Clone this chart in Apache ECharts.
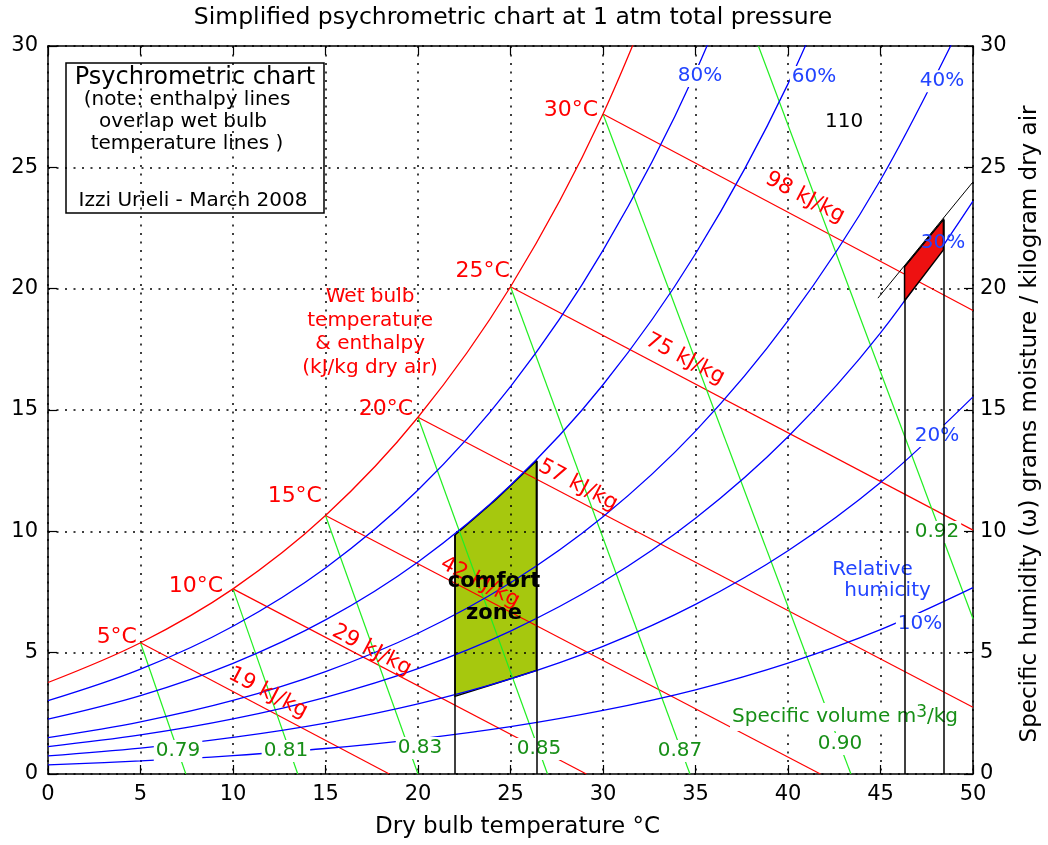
<!DOCTYPE html>
<html>
<head>
<meta charset="utf-8">
<title>Simplified psychrometric chart</title>
<script src="https://cdn.jsdelivr.net/npm/echarts@6/dist/echarts.min.js"></script>
<style>
  html, body { margin: 0; padding: 0; background: #fff; }
  #chart { width: 1048px; height: 845px; }
</style>
</head>
<body>
<div id="chart"></div>
<script>
// Dry bulb temperatures (°C) at which the humidity curves are tabulated
const temps = [0, 5, 10, 15, 20, 25, 30, 35, 40, 45, 50];

// Specific humidity (g/kg dry air) along each relative humidity curve
const rh100 = [3.77, 5.41, 7.63, 10.65, 14.70, 20.08, 27.20, 36.58];
const rh80  = [3.02, 4.32, 6.09, 8.49, 11.70, 15.96, 21.58, 28.92, 38.51];
const rh60  = [2.26, 3.23, 4.56, 6.35, 8.74, 11.90, 16.04, 21.44, 28.44, 37.46];
const rh40  = [1.50, 2.15, 3.03, 4.22, 5.80, 7.88, 10.60, 14.13, 18.68, 24.48, 31.88];
const rh30  = [1.13, 1.61, 2.27, 3.16, 4.34, 5.89, 7.92, 10.54, 13.90, 18.18, 23.61];
const rh20  = [0.75, 1.07, 1.51, 2.10, 2.89, 3.92, 5.26, 6.99, 9.20, 12.01, 15.54];
const rh10  = [0.38, 0.54, 0.76, 1.05, 1.44, 1.95, 2.62, 3.47, 4.57, 5.95, 7.68];

// Wet bulb / constant enthalpy lines: [start on saturation, end]
const wetBulbLines = [
  [[5, 5.41], [18.45, 0]],
  [[10, 7.63], [29.1, 0]],
  [[15, 10.65], [41.75, 0]],
  [[20, 14.70], [50, 2.75]],
  [[25, 20.08], [50, 10.05]],
  [[30, 27.20], [50, 19.1]]
];
const wetBulbText = ['5°C', '10°C', '15°C', '20°C', '25°C', '30°C'];
const enthalpyText = ['19 kJ/kg', '29 kJ/kg', '42 kJ/kg', '57 kJ/kg', '75 kJ/kg', '98 kJ/kg'];

// Constant specific volume lines (m³/kg)
const volumeLines = [
  [[5, 5.41], [7.45, 0]],
  [[10, 7.63], [13.5, 0]],
  [[15, 10.65], [20.0, 0]],
  [[20, 14.70], [27.0, 0]],
  [[25, 20.08], [34.7, 0]],
  [[30, 27.20], [43.4, 0]],
  [[38.4, 30], [50, 6.4]]
];
const volumeText = ['0.79', '0.81', '0.83', '0.85', '0.87', '0.90', '0.92'];
const rhText = ['80%', '60%', '40%', '20%', '10%'];

// Comfort zone (between 20% and 60% RH, 22–26.4 °C)
const comfortZone = [[22, 3.2], [22, 9.85], [24.2, 11.3], [26.4, 12.9], [26.4, 4.27], [24.2, 3.73]];
// Hot, humid operating region
const hotZone = [[46.3, 19.5], [46.3, 20.9], [48.4, 22.85], [48.4, 21.6]];
// Dry bulb bounds of both zones, drawn from the axis up to the zone top
const zoneBounds = [
  [[22, 0], [22, 9.85]],
  [[26.4, 0], [26.4, 12.9]],
  [[46.3, 0], [46.3, 20.9]],
  [[48.4, 0], [48.4, 22.85]]
];
const hotZoneEdge = [[44.86, 19.61], [50, 24.4]];

// Annotation anchors (data coordinates)
const wetBulbTextAt = [[4.81, 5.64], [9.46, 7.75], [14.81, 11.45], [19.73, 15.04], [24.97, 20.73], [29.73, 27.36]];
const enthalpyTextAt = [[11.89, 3.34], [17.5, 5.1], [23.35, 7.9], [28.65, 11.9], [34.43, 17.1], [40.92, 23.75]];
const volumeTextAt = [[7.03, 0.95], [12.86, 0.95], [20.11, 1.07], [26.54, 1.03], [34.16, 0.95], [42.81, 1.24], [48.05, 9.97]];
const rhTextAt = [[35.24, 28.76], [41.41, 28.72], [48.32, 28.55], [48.05, 13.93], [47.14, 6.18]];
const rh30TextAt = [[48.38, 21.88]];
const humidityTitleAt = [[44.57, 8.43], [45.38, 7.54]];

const FONT = 'DejaVu Sans';
const RED = '#ff0000', BLUE = '#0000ff', GREEN_LINE = '#22ee22';
const RED_TEXT = '#ff0000', BLUE_TEXT = '#2244ff', GREEN_TEXT = '#178f17';

const chart = echarts.init(document.getElementById('chart'), null, { renderer: 'canvas' });

function curve(values) {
  return values.map((w, i) => [temps[i], w]);
}
function curveSeries(name, values, color) {
  return {
    type: 'line', name: name, data: curve(values), smooth: 0.35,
    showSymbol: false, symbol: 'none', clip: true, silent: true, z: 3,
    lineStyle: { color: color, width: 1.3 }
  };
}
function segmentSeries(segments, color, width, z) {
  return {
    type: 'lines', coordinateSystem: 'cartesian2d', silent: true, z: z,
    data: segments.map(s => ({ coords: s })),
    lineStyle: { color: color, width: width, opacity: 1 }
  };
}
function polygonSeries(points, style, z) {
  return {
    type: 'custom', silent: true, z: z, data: [0],
    renderItem: function (params, api) {
      return { type: 'polygon', shape: { points: points.map(p => api.coord(p)) }, style: style };
    }
  };
}
function textSeries(anchors, texts, label, z) {
  return {
    type: 'scatter', symbolSize: 0, silent: true, z: z || 6,
    itemStyle: { opacity: 1 },
    data: anchors.map((p, i) => ({ value: p, name: texts[i] })),
    label: Object.assign({ show: true, formatter: '{b}', fontFamily: FONT, fontSize: 20, opacity: 1 }, label)
  };
}

const axisCommon = {
  type: 'value',
  axisLine: { show: true, onZero: false, lineStyle: { color: '#000', width: 1.5 } },
  axisTick: { show: true, inside: true, length: 9, lineStyle: { color: '#000', width: 1.2 } }
};
const gridLine = { show: true, lineStyle: { color: '#000', type: [2, 6.5], width: 1.5 } };

const option = {
  backgroundColor: '#fff',
  animation: false,
  grid: { left: 48, right: 75, top: 46, bottom: 71, containLabel: false },
  xAxis: [
    Object.assign({}, axisCommon, {
      min: 0, max: 50, interval: 5, position: 'bottom',
      axisLabel: { color: '#000', fontFamily: FONT, fontSize: 21, margin: 10 },
      splitLine: gridLine,
      name: 'Dry bulb temperature °C', nameLocation: 'middle', nameGap: 42,
      nameTextStyle: { color: '#000', fontFamily: FONT, fontSize: 23, padding: [0, 0, 0, 14] }
    }),
    Object.assign({}, axisCommon, {
      min: 0, max: 50, interval: 5, position: 'top',
      axisLabel: { show: false }, splitLine: { show: false }
    })
  ],
  yAxis: [
    Object.assign({}, axisCommon, {
      min: 0, max: 30, interval: 5, position: 'left',
      axisLabel: { color: '#000', fontFamily: FONT, fontSize: 21, margin: 10 },
      splitLine: gridLine
    }),
    Object.assign({}, axisCommon, {
      min: 0, max: 30, interval: 5, position: 'right',
      axisLabel: { color: '#000', fontFamily: FONT, fontSize: 21, margin: 7 },
      splitLine: { show: false }
    })
  ],
  graphic: [
    {
      type: 'text', x: 513, y: 18, z: 100,
      style: {
        text: 'Simplified psychrometric chart at 1 atm total pressure',
        fontFamily: FONT, fontSize: 23.5, fill: '#000', align: 'center', verticalAlign: 'middle'
      }
    },
    {
      // right-hand axis title, reading bottom to top
      type: 'text', x: 1030, y: 424, rotation: Math.PI / 2, z: 100,
      style: {
        text: 'Specific humidity (ω) grams moisture / kilogram dry air',
        fontFamily: FONT, fontSize: 23, fill: '#000', align: 'center', verticalAlign: 'middle'
      }
    },
    {
      type: 'group', x: 66, y: 63, z: 100,
      children: [
        { type: 'rect', shape: { x: 0, y: 0, width: 258, height: 150 },
          style: { fill: '#fff', stroke: '#000', lineWidth: 1.5 } },
        { type: 'text', x: 129, y: 15, style: { text: 'Psychrometric chart', fontFamily: FONT, fontSize: 24, fill: '#000', align: 'center', verticalAlign: 'middle' } },
        { type: 'text', x: 121, y: 37, style: { text: '(note: enthalpy lines', fontFamily: FONT, fontSize: 20, fill: '#000', align: 'center', verticalAlign: 'middle' } },
        { type: 'text', x: 117, y: 59, style: { text: 'overlap wet bulb', fontFamily: FONT, fontSize: 20, fill: '#000', align: 'center', verticalAlign: 'middle' } },
        { type: 'text', x: 121, y: 81, style: { text: 'temperature lines )', fontFamily: FONT, fontSize: 20, fill: '#000', align: 'center', verticalAlign: 'middle' } },
        { type: 'text', x: 127, y: 138, style: { text: 'Izzi Urieli - March 2008', fontFamily: FONT, fontSize: 20, fill: '#000', align: 'center', verticalAlign: 'middle' } }
      ]
    }
  ],
  series: [
    // comfort zone sits under the grid and the curves
    polygonSeries(comfortZone, { fill: '#a6c80e', stroke: '#000', lineWidth: 1.5 }, -1),

    // saturation curve and relative humidity curves
    curveSeries('100%', rh100, RED),
    curveSeries('80%', rh80, BLUE),
    curveSeries('60%', rh60, BLUE),
    curveSeries('40%', rh40, BLUE),
    curveSeries('30%', rh30, BLUE),
    curveSeries('20%', rh20, BLUE),
    curveSeries('10%', rh10, BLUE),

    // wet bulb / enthalpy and specific volume lines
    segmentSeries(wetBulbLines, RED, 1.2, 3),
    segmentSeries(volumeLines, GREEN_LINE, 1.2, 3),

    // labels
    textSeries(wetBulbTextAt, wetBulbText, { position: 'left', distance: 0, color: RED_TEXT, fontSize: 22 }),
    textSeries(enthalpyTextAt, enthalpyText, { position: 'inside', rotate: -27.7, color: RED_TEXT, fontSize: 21.5 }),
    textSeries(volumeTextAt, volumeText, { position: 'inside', color: GREEN_TEXT, backgroundColor: '#fff', padding: [1, 2] }),
    textSeries(rhTextAt, rhText, { position: 'inside', color: BLUE_TEXT, backgroundColor: '#fff', padding: [1, 2] }),
    textSeries([[17.41, 18.21]], ['Wet bulb\ntemperature\n& enthalpy\n(kJ/kg dry air)'],
      { position: 'inside', color: RED_TEXT, lineHeight: 23.5, align: 'center' }),
    textSeries(humidityTitleAt, ['Relative', 'humicity'], { position: 'inside', color: BLUE_TEXT }),
    textSeries([[43.08, 2.35]], ['Specific volume m{s|3}/kg'],
      { position: 'inside', color: GREEN_TEXT, backgroundColor: '#fff', padding: [1, 2],
        rich: { s: { fontFamily: FONT, fontSize: 17, color: GREEN_TEXT, padding: [0, 0, 9, 0] } } }),
    textSeries([[43.03, 26.86]], ['110'], { position: 'inside', color: '#000' }),

    // zone bounds and hot region
    segmentSeries(zoneBounds, '#000', 1.5, 7),
    polygonSeries(hotZone, { fill: '#ee1111', stroke: '#000', lineWidth: 1.5 }, 7),
    segmentSeries([hotZoneEdge], '#000', 1, 7),
    textSeries(rh30TextAt, ['30%'], { position: 'inside', color: BLUE_TEXT }, 8),

    textSeries([[24.11, 7.29]], ['comfort\nzone'],
      { position: 'inside', color: '#000', fontWeight: 'bold', fontSize: 21, lineHeight: 32, align: 'center' }, 8)
  ]
};

chart.setOption(option);
</script>
</body>
</html>
